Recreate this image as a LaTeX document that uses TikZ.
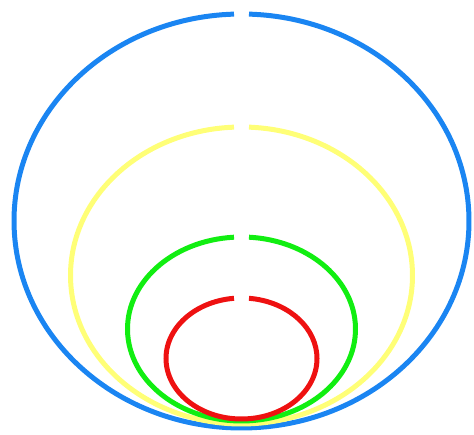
\documentclass[tikz,border=0pt]{standalone}
\usetikzlibrary{calc}
\definecolor{outerblue}{HTML}{1A85F2}
\definecolor{paleyellow}{HTML}{FFFF77}
\definecolor{limegreen}{HTML}{11EE11}
\definecolor{innerred}{HTML}{EE1111}
\tikzset{ring/.style={line width=5pt,line cap=butt}}

\begin{document}
\begin{tikzpicture}[x=1pt,y=1pt]
\useasboundingbox (0,0) rectangle (474,435);
% nested ellipses, all touching at the bottom, open at the top
\foreach \c/\cy/\rx/\ry in {outerblue/214/227.5/207,paleyellow/159.5/171/148.5,
  limegreen/106/114/92,innerred/76.5/75.5/60.5}{
 \pgfmathsetmacro{\gap}{asin(7.5/\rx)}
 \draw[ring,draw=\c] (241.5,\cy) ++({90+\gap}:\rx pt and \ry pt)
   arc[start angle=90+\gap,end angle=450-\gap,x radius=\rx pt,y radius=\ry pt];
}
\end{tikzpicture}
\end{document}
